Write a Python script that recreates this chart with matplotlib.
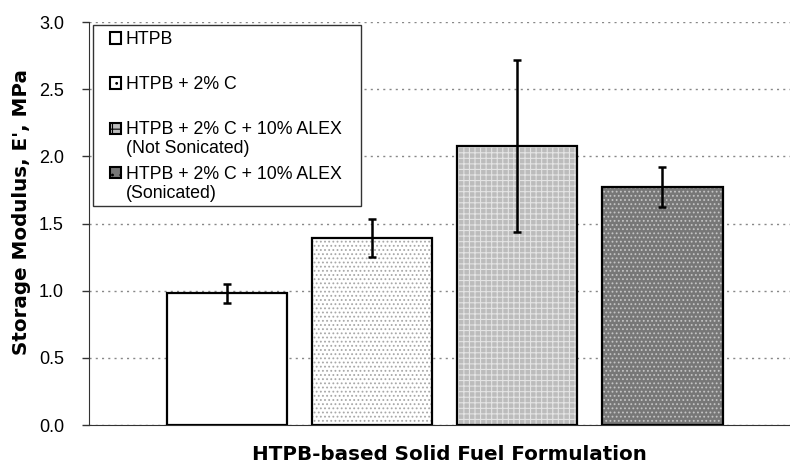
import matplotlib.pyplot as plt
from matplotlib.patches import Rectangle

# Storage modulus of each formulation (mean and std. dev.)
labels = ["HTPB", "HTPB + 2% C", "HTPB + 2% C + 10% ALEX\n(Not Sonicated)",
          "HTPB + 2% C + 10% ALEX\n(Sonicated)"]
modulus = [0.98, 1.39, 2.08, 1.77]
errors = [0.07, 0.14, 0.64, 0.15]

# fill, hatch colour, hatch pattern per bar
faces = ["white", "white", "#bcbcbc", "#777777"]
hatch_cols = ["white", "#a8a8a8", "#e4e4e4", "#c4c4c4"]
hatches = [None, "....", "+++", "...."]

plt.rcParams['font.family'] = ['Liberation Sans', 'DejaVu Sans']
plt.rcParams['hatch.linewidth'] = 0.8

W, H = 790, 475
fig = plt.figure(figsize=(W / 100, H / 100), dpi=100)
ax = fig.add_axes([89 / W, 50 / H, 701 / W, 403 / H])

x = list(range(len(modulus)))
w = 0.83
for i in x:
    ax.bar(i, modulus[i], width=w, color=faces[i], edgecolor=hatch_cols[i],
           hatch=hatches[i], linewidth=0, zorder=2)
ax.bar(x, modulus, width=w, fill=False, edgecolor="black", linewidth=1.6, zorder=3)
ax.errorbar(x, modulus, yerr=errors, fmt="none", ecolor="black", elinewidth=1.8,
            capsize=3, capthick=1.8, zorder=4)

ax.set_xlim(-0.95, 3.88)
ax.set_ylim(0, 3.0)
ax.set_yticks([0, 0.5, 1.0, 1.5, 2.0, 2.5, 3.0])
ax.set_yticklabels([f"{v:.1f}" for v in ax.get_yticks()], fontsize=13)
ax.set_xticks([])
ax.yaxis.grid(True, linestyle=(0, (1.5, 3)), color="#888888", linewidth=1, zorder=0)
ax.set_axisbelow(True)
for s in ["top", "right"]:
    ax.spines[s].set_visible(False)
ax.spines["left"].set_color("#333333")
ax.spines["bottom"].set_color("#333333")
ax.tick_params(axis="y", direction="out", length=5, width=1, color="#333333", pad=13)

bold = dict(fontsize=14.3, fontweight="bold", family="DejaVu Sans")
ax.set_ylabel("Storage Modulus, E', MPa", va="center", **bold)
ax.yaxis.set_label_coords(-67 / 701, (425 - 212) / 403)
ax.set_xlabel("HTPB-based Solid Fuel Formulation", va="center", **bold)
ax.xaxis.set_label_coords((449 - 89) / 701, -(455 - 425) / 403)

# legend box, laid out in pixels from the top-left corner
def px(xp, yp):
    return xp / W, 1 - yp / H

lx0, ly0, lx1, ly1 = 93, 25, 361, 206
fig.patches.append(Rectangle(px(lx0, ly1), (lx1 - lx0) / W, (ly1 - ly0) / H,
                             transform=fig.transFigure, facecolor="white",
                             edgecolor="#333333", linewidth=1, zorder=5))
rows = [38, 83, 128, 173]
sq = 11
for i, yr in enumerate(rows):
    fig.patches.append(Rectangle(px(110, yr + sq / 2), sq / W, sq / H,
                                 transform=fig.transFigure, facecolor=faces[i],
                                 edgecolor="black", hatch=hatches[i] and hatches[i][:2],
                                 linewidth=1.5, zorder=6))
    fig.text(*px(126, yr - 7), labels[i], fontsize=12.8, va="top", ha="left",
             linespacing=1.18, zorder=6)

fig.savefig("out.png", dpi=100)
